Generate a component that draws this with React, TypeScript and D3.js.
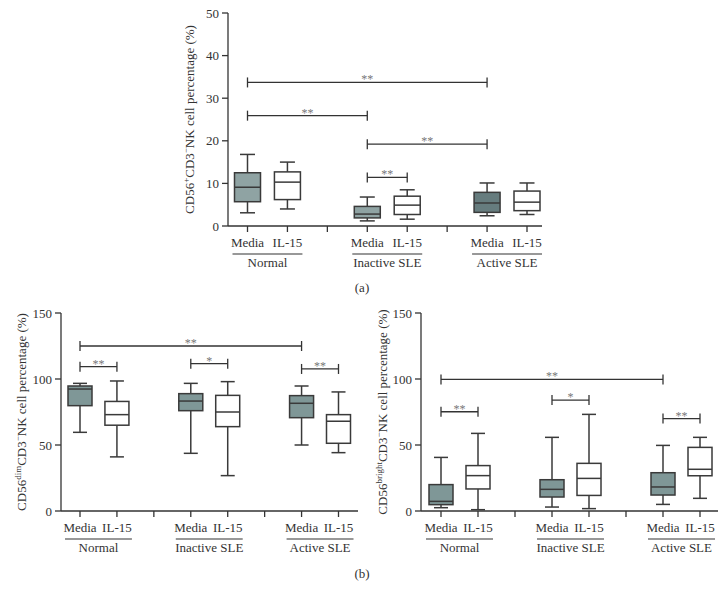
import React from "react";
import * as d3 from "d3";

const groups = ["Normal", "Inactive SLE", "Active SLE"];
const treatments = ["Media", "IL-15"];
const boxSlots = [0, 1, 3, 4, 6, 7];
const separatorSlots = [2, 5];

// [min, q1, median, q3, max]
const statsA = [
  [3.1, 5.7, 9.1, 12.5, 16.8],
  [4.0, 6.2, 10.3, 12.7, 15.0],
  [1.2, 1.9, 2.8, 4.6, 6.8],
  [1.6, 2.7, 4.9, 7.0, 8.5],
  [2.4, 3.2, 5.4, 7.9, 10.1],
  [2.7, 3.6, 5.6, 8.2, 10.1],
];
const statsDim = [
  [59.6, 79.8, 92.4, 94.7, 96.7],
  [41.0, 65.0, 73.0, 83.0, 98.5],
  [43.7, 76.0, 83.3, 88.9, 96.7],
  [26.8, 63.9, 75.0, 87.6, 98.0],
  [50.0, 70.7, 81.6, 87.4, 94.7],
  [44.2, 51.3, 68.0, 73.0, 90.2],
];
const statsBright = [
  [2.5, 4.8, 7.3, 20.0, 40.6],
  [1.0, 16.7, 26.8, 34.4, 58.8],
  [3.0, 10.6, 16.4, 23.7, 55.8],
  [1.8, 11.8, 24.7, 36.1, 73.2],
  [5.0, 12.1, 18.2, 29.0, 49.7],
  [9.6, 26.7, 31.6, 48.2, 55.8],
];

// significance brackets: from box index, to box index, y value, label
const sigA = [
  { a: 0, b: 4, y: 33.7, label: "**" },
  { a: 0, b: 2, y: 25.9, label: "**" },
  { a: 2, b: 4, y: 19.2, label: "**" },
  { a: 2, b: 3, y: 11.4, label: "**" },
];
const sigDim = [
  { a: 0, b: 4, y: 125, label: "**" },
  { a: 0, b: 1, y: 109.3, label: "**" },
  { a: 2, b: 3, y: 111.6, label: "*" },
  { a: 4, b: 5, y: 107.6, label: "**" },
];
const sigBright = [
  { a: 0, b: 4, y: 99.7, label: "**" },
  { a: 0, b: 1, y: 75.2, label: "**" },
  { a: 2, b: 3, y: 84, label: "*" },
  { a: 4, b: 5, y: 70, label: "**" },
];

const ticksA = [0, 10, 20, 30, 40, 50];
const ticksB = [0, 50, 100, 150];

const FONT = "'Liberation Serif', 'DejaVu Serif', serif";
const INK = "#333";
const LIGHT = "#8fa3a3";
const DARK = "#667c7e";
const MID = "#7f9797";

type Sig = { a: number; b: number; y: number; label: string };
type PanelProps = {
  stats: number[][];
  sig: Sig[];
  yMax: number;
  yTicks: number[];
  fills: string[];
  axisLeft: number;
  axisRight: number;
  slot0: number;
  slot7: number;
  yBottom: number;
  yTop: number;
  boxW: number;
  capW: number;
  titleX: number;
  sup1: string;
};

function Panel(p: PanelProps) {
  const x = d3.scaleLinear().domain([0, 7]).range([p.slot0, p.slot7]);
  const y = d3.scaleLinear().domain([0, p.yMax]).range([p.yBottom, p.yTop]);
  const allSlots = d3.range(8);
  const titleY = (p.yBottom + p.yTop) / 2;
  return (
    <g fontFamily={FONT} fill={INK}>
      {/* y axis */}
      <line x1={p.axisLeft} x2={p.axisLeft} y1={y(p.yMax)} y2={y(0)} stroke={INK} strokeWidth={1.3} />
      {p.yTicks.map((t) => (
        <g key={t}>
          <line x1={p.axisLeft - 6} x2={p.axisLeft} y1={y(t)} y2={y(t)} stroke={INK} strokeWidth={1.3} />
          <text x={p.axisLeft - 9} y={y(t)} dy="0.35em" textAnchor="end" fontSize={13}>
            {t}
          </text>
        </g>
      ))}
      {/* x axis */}
      <line x1={p.axisLeft} x2={p.axisRight} y1={y(0)} y2={y(0)} stroke={INK} strokeWidth={1.3} />
      {allSlots.map((s) => (
        <line key={s} x1={x(s)} x2={x(s)} y1={y(0)} y2={y(0) + 6} stroke={INK} strokeWidth={1.3} />
      ))}
      {/* boxes */}
      {p.stats.map((st, i) => {
        const cx = x(boxSlots[i]);
        const [mn, q1, md, q3, mx] = st;
        return (
          <g key={i} stroke="#3a3a3a" strokeWidth={1.5}>
            <line x1={cx} x2={cx} y1={y(mx)} y2={y(q3)} />
            <line x1={cx} x2={cx} y1={y(q1)} y2={y(mn)} />
            <line x1={cx - p.capW / 2} x2={cx + p.capW / 2} y1={y(mx)} y2={y(mx)} />
            <line x1={cx - p.capW / 2} x2={cx + p.capW / 2} y1={y(mn)} y2={y(mn)} />
            <rect x={cx - p.boxW / 2} y={y(q3)} width={p.boxW} height={y(q1) - y(q3)} fill={p.fills[i]} />
            <line x1={cx - p.boxW / 2} x2={cx + p.boxW / 2} y1={y(md)} y2={y(md)} />
          </g>
        );
      })}
      {/* significance */}
      {p.sig.map((s, i) => {
        const xa = x(boxSlots[s.a]);
        const xb = x(boxSlots[s.b]);
        const yy = y(s.y);
        return (
          <g key={i}>
            <g stroke={INK} strokeWidth={1.3}>
              <line x1={xa} x2={xb} y1={yy} y2={yy} />
              <line x1={xa} x2={xa} y1={yy - 5} y2={yy + 5} />
              <line x1={xb} x2={xb} y1={yy - 5} y2={yy + 5} />
            </g>
            <text x={(xa + xb) / 2} y={yy + 1} textAnchor="middle" fontSize={12} fill="#777">
              {s.label}
            </text>
          </g>
        );
      })}
      {/* category labels */}
      {boxSlots.map((s, i) => (
        <text key={i} x={x(s)} y={y(0) + 21} textAnchor="middle" fontSize={13}>
          {treatments[i % 2]}
        </text>
      ))}
      {groups.map((g, gi) => {
        const a = x(boxSlots[gi * 2]);
        const b = x(boxSlots[gi * 2 + 1]);
        return (
          <g key={g}>
            <line x1={a - 15} x2={b + 15} y1={y(0) + 28} y2={y(0) + 28} stroke={INK} strokeWidth={1.2} />
            <text x={(a + b) / 2} y={y(0) + 41} textAnchor="middle" fontSize={13}>
              {g}
            </text>
          </g>
        );
      })}
      {/* y title */}
      <text
        transform={`translate(${p.titleX},${titleY}) rotate(-90)`}
        textAnchor="middle"
        dy="0.35em"
        fontSize={13}
      >
        <tspan>CD56</tspan>
        <tspan fontSize={9} dy={-5}>{p.sup1}</tspan>
        <tspan dy={5}>CD3</tspan>
        <tspan fontSize={9} dy={-5}>−</tspan>
        <tspan dy={5}>NK cell percentage (%)</tspan>
      </text>
    </g>
  );
}

export default function App() {
  return (
    <svg
      width={726}
      height={600}
      style={{ position: "absolute", left: 0, top: 0, background: "#fff" }}
    >
      <rect width={726} height={600} fill="#fff" />
      <Panel
        stats={statsA}
        sig={sigA}
        yMax={50}
        yTicks={ticksA}
        fills={[LIGHT, "#fff", LIGHT, "#fff", DARK, "#fff"]}
        axisLeft={228}
        axisRight={542}
        slot0={247.5}
        slot7={527}
        yBottom={226}
        yTop={13}
        boxW={26}
        capW={15}
        titleX={189}
        sup1="+"
      />
      <Panel
        stats={statsDim}
        sig={sigDim}
        yMax={150}
        yTicks={ticksB}
        fills={[MID, "#fff", MID, "#fff", MID, "#fff"]}
        axisLeft={61}
        axisRight={358}
        slot0={80}
        slot7={338.5}
        yBottom={511}
        yTop={313}
        boxW={24}
        capW={14}
        titleX={21}
        sup1="dim"
      />
      <Panel
        stats={statsBright}
        sig={sigBright}
        yMax={150}
        yTicks={ticksB}
        fills={[MID, "#fff", MID, "#fff", MID, "#fff"]}
        axisLeft={421}
        axisRight={718}
        slot0={441}
        slot7={700}
        yBottom={511}
        yTop={313}
        boxW={24}
        capW={14}
        titleX={382}
        sup1="bright"
      />
      <text x={362} y={292} textAnchor="middle" fontSize={13} fontFamily={FONT} fill={INK}>
        (a)
      </text>
      <text x={362} y={578} textAnchor="middle" fontSize={13} fontFamily={FONT} fill={INK}>
        (b)
      </text>
    </svg>
  );
}
